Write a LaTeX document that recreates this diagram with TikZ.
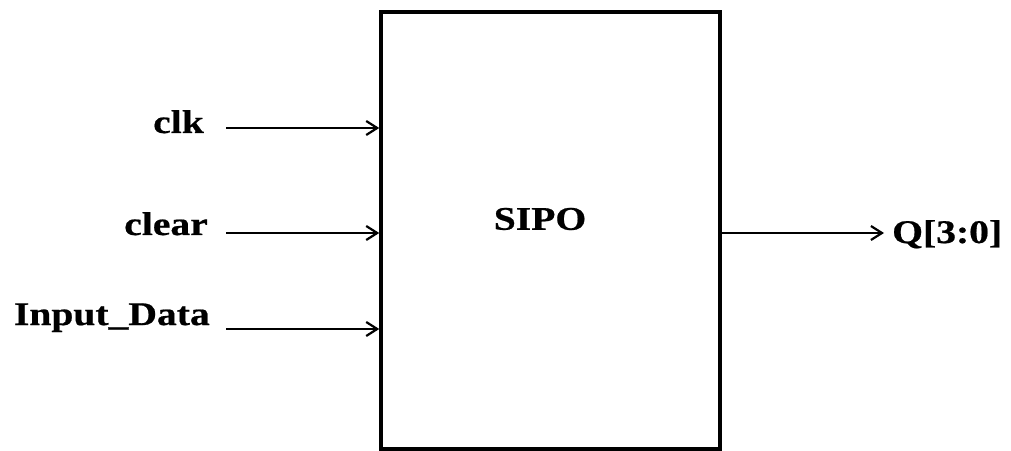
\documentclass[tikz,border=0pt]{standalone}
\usepackage{fontspec}
\setmainfont{Liberation Serif}[FakeStretch=1.2]
\newfontfamily\lblfont{Liberation Serif}[FakeStretch=1.2,BoldFeatures={FakeBold=0.6}]
\usetikzlibrary{arrows.meta}
\begin{document}
\begin{tikzpicture}[x=1pt,y=1pt,
  lbl/.style={font=\lblfont\fontsize{33}{36}\selectfont\bfseries, inner sep=0pt},
  arr/.style={line width=2.6pt, -{Straight Barb[length=11pt,width=14pt,line width=2.2pt]}},
  blk/.style={draw, line width=3.5pt, minimum width=339pt, minimum height=437pt, inner sep=0pt}]
\useasboundingbox (0,0) rectangle (1011,450);
\node[blk] (sipo) at (550.5,219.5) {};
\node[lbl] (name) at (540,231) {SIPO};
\node[lbl, anchor=base east] (clk) at (204,317) {clk};
\node[lbl, anchor=base east] (clr) at (208,215) {clear};
\node[lbl, anchor=base east] (din) at (210,125) {Input\_Data};
\node[lbl, anchor=base west] (q) at (892,207) {Q[3:0]};
\coordinate (clkin) at (226,322);
\coordinate (clrin) at (226,217);
\coordinate (dinin) at (226,121);
\coordinate (qout) at (884,217);
\draw[arr] (clkin) -- (clkin -| sipo.west);
\draw[arr] (clrin) -- (clrin -| sipo.west);
\draw[arr] (dinin) -- (dinin -| sipo.west);
\draw[arr] (qout -| sipo.east) -- (qout);
\end{tikzpicture}
\end{document}
